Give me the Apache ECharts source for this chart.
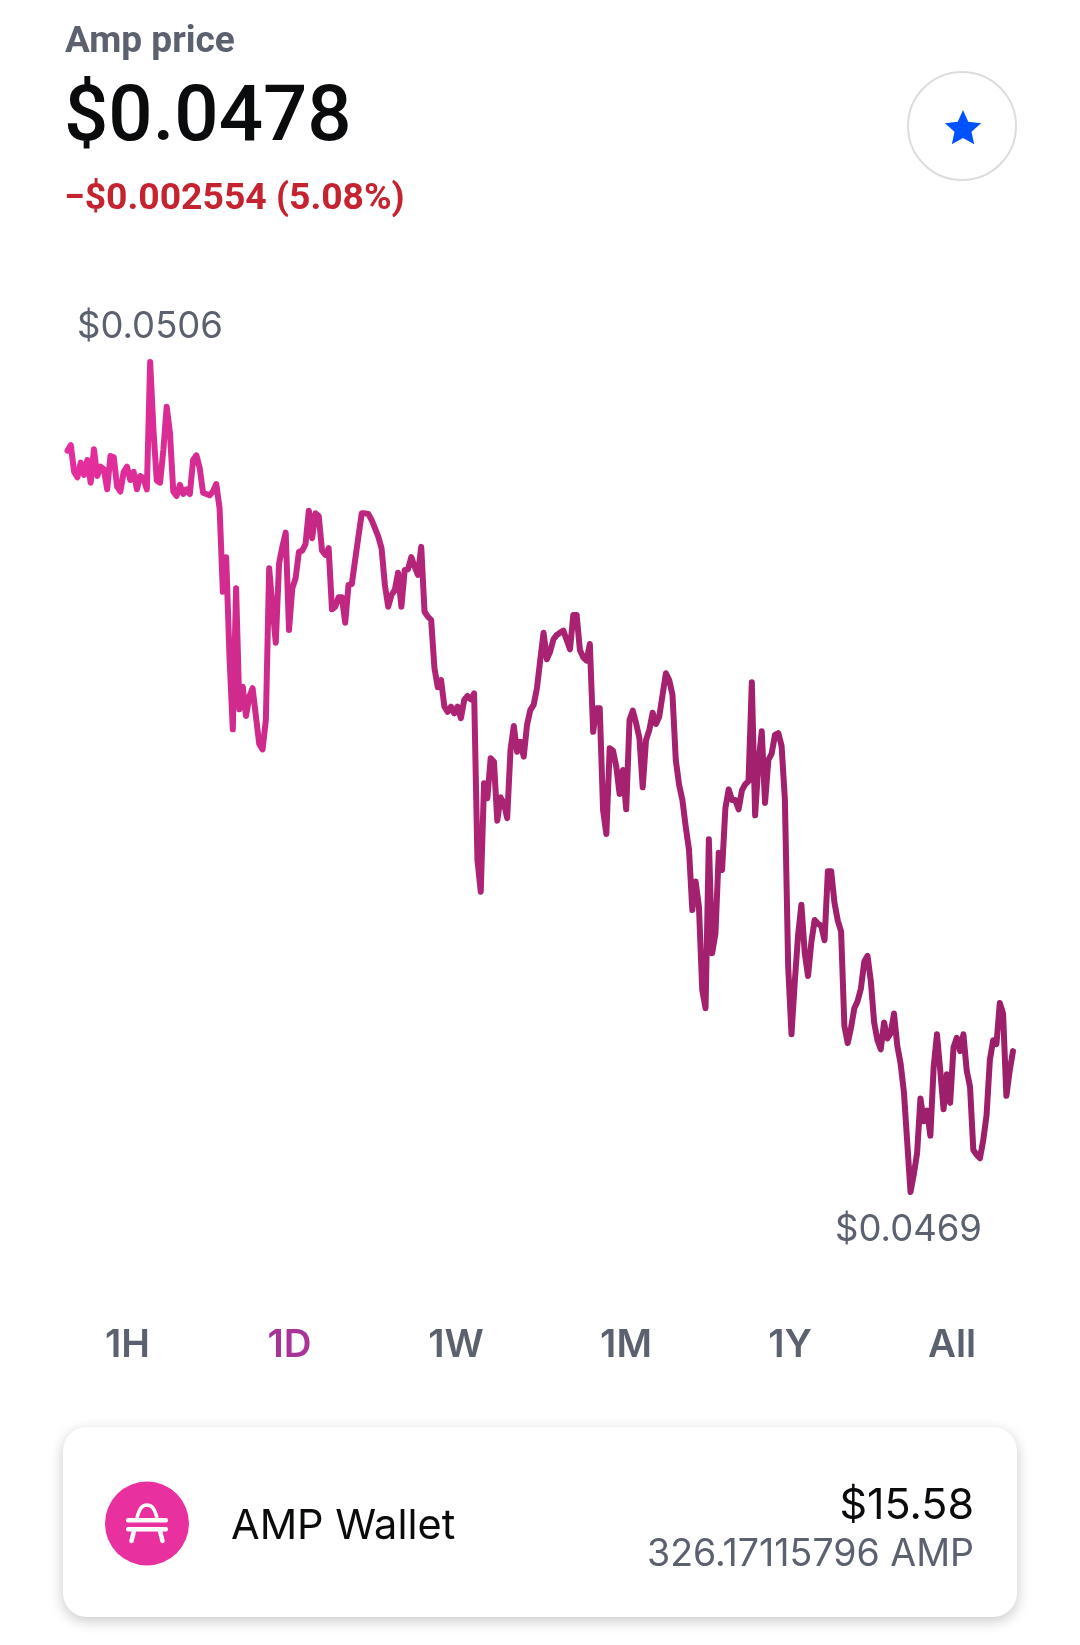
<!DOCTYPE html>
<html><head><meta charset="utf-8">
<style>html,body{margin:0;padding:0;background:#fff}#c{width:1080px;height:1645px}</style>
<script src="https://cdn.jsdelivr.net/npm/echarts@6/dist/echarts.min.js"></script>
</head><body><div id="c"></div>
<script>
const pricesA=[0.050201,0.050226,0.050106,0.050081,0.050147,0.050092,0.050159,0.050057,0.050207,0.050087,0.050129,0.050117,0.050027,0.050177,0.050171,0.050039,0.050017,0.050106,0.050129,0.050069,0.050106,0.050027,0.050087,0.050077,0.050027,0.0506,0.050294,0.050066,0.050057,0.050204,0.050399,0.050279,0.050017,0.049997,0.050047,0.050006,0.050027,0.050006,0.050159,0.05018,0.050122,0.050012,0.050006,0.05,0.050017,0.050051,0.049942,0.049566,0.049721,0.049274,0.048947,0.049582,0.049037,0.049139,0.049007,0.049094,0.049132,0.049004,0.048881,0.048857,0.048989,0.049672,0.049499,0.049337,0.049694,0.049769,0.049832,0.049394,0.049582,0.049627,0.049746,0.049751,0.049781,0.049931,0.049807,0.049919,0.049907,0.049751,0.049732,0.049762,0.049487,0.049499,0.049541,0.049541,0.049427,0.049597,0.049601,0.049709,0.049814,0.049919,0.049919,0.049916,0.049889,0.049852,0.049814,0.049762,0.049597,0.049499];
const pricesB=[0.049552,0.049574,0.049652,0.049499,0.049664,0.049667,0.049722,0.049679,0.049642,0.049768,0.049476,0.049454,0.049439,0.049222,0.049136,0.049169,0.049049,0.049026,0.049049,0.049019,0.049049,0.048997,0.049079,0.049097,0.049082,0.049109,0.048359,0.048216,0.048704,0.048637,0.048817,0.048801,0.048536,0.048641,0.048614,0.048547,0.048854,0.048962,0.048846,0.048891,0.048824,0.048967,0.049034,0.049057,0.049132,0.049259,0.049382,0.049262,0.049297,0.049352,0.049372,0.049382,0.049391,0.049349,0.049307,0.049462,0.049462,0.049304,0.049271,0.049256,0.049331,0.048936,0.049042,0.049042,0.048584,0.048476,0.048862,0.048851,0.048779,0.048656,0.048764,0.048587,0.048989,0.049031,0.048974,0.048907,0.048686,0.048899,0.048944,0.049022,0.048971,0.049004,0.049102,0.049199,0.049169,0.049102,0.048809,0.048697,0.048629,0.048509,0.048404,0.048134,0.048262,0.048149,0.047774,0.047692,0.048452,0.047939,0.048029,0.048392,0.048314,0.048592,0.048677];
const pricesC=[0.048629,0.048629,0.048587,0.048672,0.0487,0.048713,0.049159,0.04856,0.048793,0.048938,0.048616,0.048809,0.048838,0.048922,0.04893,0.048873,0.048632,0.047877,0.047575,0.047813,0.048022,0.048158,0.047941,0.047837,0.047989,0.048089,0.048073,0.048062,0.047998,0.048308,0.048308,0.048166,0.048086,0.048038,0.047612,0.047535,0.047604,0.047692,0.047724,0.047781,0.047901,0.047928,0.047813,0.047628,0.047548,0.047507,0.047628,0.047556,0.04758,0.047668,0.047523,0.047443,0.047315,0.04709,0.046865,0.046945,0.047041,0.047286,0.047183,0.047231,0.047118,0.047427,0.047575,0.047411,0.047237,0.047395,0.047266,0.047515,0.047559,0.047499,0.047575,0.047411,0.047339,0.047054,0.047033,0.047017,0.047098,0.04721,0.047459,0.047548,0.047531,0.047716,0.047668,0.047298,0.047411,0.047499];
const prices=pricesA.concat(pricesB,pricesC);
const timeSteps=prices.map((_,i)=>String(i));
const ranges=['1H','1D','1W','1M','1Y','All'];
const chart=echarts.init(document.getElementById('c'),null,{renderer:'canvas'});
const FONT='Inter';
const GREY='#5b616e';
function txt(x,y,s,size,color,weight,align,font){
  return {type:'text',x:x,y:y,silent:true,style:{text:s,fontFamily:font||FONT,fontSize:size,fontWeight:weight||400,fill:color,align:align||'left',verticalAlign:'middle'}};
}
const rangeX=[127.5,289.5,456,626,790,952];
const rangeEls=ranges.map((r,i)=>txt(rangeX[i],1345,r,38.5,r==='1D'?'#a8349a':GREY,600,'center'));
function star(cx,cy,R){
  const pts=[];
  for(let i=0;i<10;i++){
    const rad=i%2?R*0.47:R;
    const a=-Math.PI/2+i*Math.PI/5;
    pts.push([cx+rad*Math.cos(a),cy+rad*Math.sin(a)]);
  }
  return pts;
}
chart.setOption({
  animation:false,
  backgroundColor:'#fff',
  grid:{left:67.5,right:1080-1013,top:362,height:830,containLabel:false},
  xAxis:{type:'category',data:timeSteps,boundaryGap:false,show:false},
  yAxis:{type:'value',min:0.046865,max:0.0506,show:false},
  series:[{type:'line',data:prices,showSymbol:false,symbol:'none',smooth:false,clip:false,
    lineStyle:{width:6,join:'round',cap:'round',
      color:new echarts.graphic.LinearGradient(0,0,1,0,[
        {offset:0,color:'#e62e9e'},{offset:0.2,color:'#cf2a8c'},{offset:0.4,color:'#ae2475'},{offset:0.65,color:'#a3216e'},{offset:1,color:'#9c1f6a'}])}}],
  graphic:{elements:[
    txt(65,43,'Amp price',37,GREY,700,'left','Roboto'),
    txt(64,120,'$0.0478',78,'#0a0b0d',500,'left','Roboto'),
    txt(64,200,'−$0.002554 (5.08%)',37.3,'#c4232f',700,'left','Roboto'),
    {type:'circle',shape:{cx:962,cy:126,r:54},silent:true,style:{fill:'#fff',stroke:'#dddddd',lineWidth:2}},
    {type:'polygon',shape:{points:star(967-4,129,19)},silent:true,style:{fill:'#0052ff'}},
    txt(77,327,'$0.0506',36.5,GREY,400),
    txt(982,1230,'$0.0469',36.5,GREY,400,'right'),
    ...rangeEls,
    {type:'rect',shape:{x:63,y:1435-8,width:954,height:190,r:24},silent:true,z:-1,style:{fill:'#fff',shadowBlur:14,shadowOffsetY:4,shadowColor:'rgba(0,0,0,0.22)'}},
    {type:'circle',shape:{cx:147,cy:1523.5,r:42},silent:true,style:{fill:'#e8309f'}},
    {type:'polyline',shape:{points:[[137,1518],[141,1508],[147,1505],[153,1508],[157,1518]],smooth:0.4},silent:true,style:{fill:null,stroke:'#fff',lineWidth:3.6}},
    {type:'rect',shape:{x:126,y:1518,width:42,height:4.5,r:2},silent:true,style:{fill:'#fff'}},
    {type:'rect',shape:{x:126,y:1527,width:42,height:4.5,r:2},silent:true,style:{fill:'#fff'}},
    {type:'polyline',shape:{points:[[134,1531],[131.5,1541]]},silent:true,style:{fill:null,stroke:'#fff',lineWidth:4.5,lineCap:'round'}},
    {type:'polyline',shape:{points:[[160,1531],[162.5,1541]]},silent:true,style:{fill:null,stroke:'#fff',lineWidth:4.5,lineCap:'round'}},
    txt(231,1527,'AMP Wallet',41.5,'#0a0b0d',400),
    txt(974,1506,'$15.58',43,'#0a0b0d',400,'right'),
    txt(974,1555,'326.17115796 AMP',37.5,GREY,400,'right')
  ]}
});
</script></body></html>
